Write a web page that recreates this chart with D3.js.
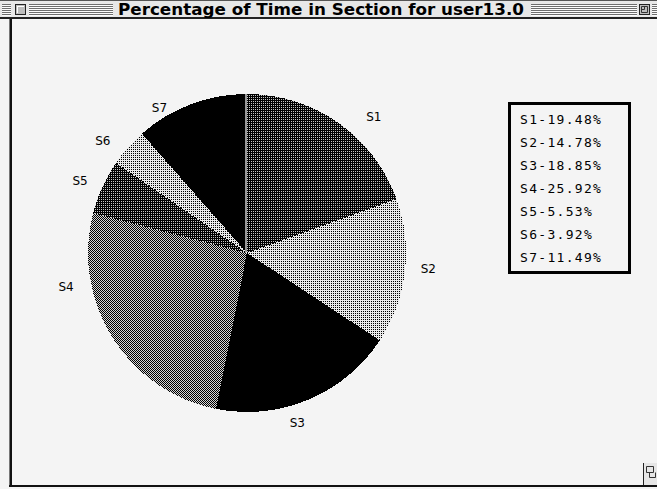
<!DOCTYPE html>
<html>
<head>
<meta charset="utf-8">
<script src="https://cdn.jsdelivr.net/npm/d3@7/dist/d3.min.js"></script>
<style>
  html, body { margin: 0; padding: 0; background: #f4f4f4; overflow: hidden; }
  svg { display: block; }
</style>
</head>
<body>
<svg id="chart" width="657" height="489"></svg>
<script>
// ---- data ----
const chartTitle = "Percentage of Time in Section for user13.0";
const sections = ["S1", "S2", "S3", "S4", "S5", "S6", "S7"];
const percents = [19.48, 14.78, 18.85, 25.92, 5.53, 3.92, 11.49];
const shades = ["dark", "light", "solid", "medium", "dark", "light", "solid"];

// ---- layout ----
const W = 657, H = 489;
const bg = "#f4f4f4";
const cx = 247, cy = 253, radius = 159;
// label bearing (degrees clockwise from 12 o'clock) and distance from centre
const labelBearing = [43, 95, 163.5, 259.5, 293.5, 308, 329];
const labelDist = [186, 182, 177, 184, 182, 183, 170];

const svg = d3.select("#chart");
const defs = svg.append("defs");

// 2x2 dither tiles
function tile(id, cells, back, fore) {
  const p = defs.append("pattern").attr("id", id)
    .attr("patternUnits", "userSpaceOnUse").attr("width", 2).attr("height", 2);
  p.append("rect").attr("width", 2).attr("height", 2).attr("fill", back);
  cells.forEach(([x, y]) => p.append("rect").attr("x", x).attr("y", y)
    .attr("width", 1).attr("height", 1).attr("fill", fore));
}
tile("dark", [[0, 0]], "#000", "#c4c4c4");
tile("light", [[0, 0]], "#eaeaea", "#000");
tile("medium", [[0, 0], [1, 1]], "#d6d6d6", "#000");
const fillFor = s => s === "solid" ? "#000" : `url(#${s})`;

// ---- window frame ----
svg.append("rect").attr("x", 0).attr("y", 0).attr("width", W).attr("height", H).attr("fill", bg);
// left edge shadow + border
svg.append("rect").attr("x", 9).attr("y", 18).attr("width", 1).attr("height", 469).attr("fill", "#777");
svg.append("rect").attr("x", 10).attr("y", 18).attr("width", 2).attr("height", 469).attr("fill", "#111");
// bottom border
svg.append("rect").attr("x", 9).attr("y", 485).attr("width", W - 9).attr("height", 2).attr("fill", "#111");

// title bar
const tb = svg.append("g");
tb.append("rect").attr("x", 0).attr("y", 0).attr("width", W).attr("height", 18).attr("fill", "#e8e8e8");
tb.append("rect").attr("x", 0).attr("y", 0).attr("width", W).attr("height", 1).attr("fill", "#555");
tb.append("rect").attr("x", 0).attr("y", 17).attr("width", W).attr("height", 2).attr("fill", "#222");
const stripeRuns = [[2, 11], [29, 113], [531, 637], [652, 657]];
[4, 6, 8, 10, 12, 14].forEach(y => {
  stripeRuns.forEach(([a, b]) => {
    tb.append("rect").attr("x", a).attr("y", y).attr("width", b - a).attr("height", 1).attr("fill", "#6e6e6e");
    tb.append("rect").attr("x", a).attr("y", y + 1).attr("width", b - a).attr("height", 1).attr("fill", "#fdfdfd");
  });
});
// close box
tb.append("rect").attr("x", 13).attr("y", 2).attr("width", 14).attr("height", 14).attr("fill", "#e8e8e8");
tb.append("rect").attr("x", 15.5).attr("y", 4.5).attr("width", 10).attr("height", 10)
  .attr("fill", "#bdbdbd").attr("stroke", "#222");
tb.append("rect").attr("x", 17).attr("y", 6).attr("width", 7).attr("height", 1).attr("fill", "#fff");
tb.append("rect").attr("x", 17).attr("y", 6).attr("width", 1).attr("height", 7).attr("fill", "#fff");
// zoom box
tb.append("rect").attr("x", 637).attr("y", 2).attr("width", 15).attr("height", 14).attr("fill", "#e8e8e8");
tb.append("rect").attr("x", 639.5).attr("y", 4.5).attr("width", 10).attr("height", 10)
  .attr("fill", "#bdbdbd").attr("stroke", "#222");
tb.append("path").attr("d", "M641.5,6.5 H647.5 V12.5 H641.5 Z M644.5,6.5 V9.5 H641.5")
  .attr("fill", "none").attr("stroke", "#333");
// title text
tb.append("text").attr("x", 321).attr("y", 15)
  .attr("text-anchor", "middle")
  .attr("font-family", "'DejaVu Sans Condensed', 'DejaVu Sans', sans-serif")
  .attr("font-weight", "bold").attr("font-size", 15)
  .attr("textLength", 406).attr("lengthAdjust", "spacingAndGlyphs")
  .attr("fill", "#000")
  .text(chartTitle);

// grow box
const gb = svg.append("g");
gb.append("rect").attr("x", 643).attr("y", 463).attr("width", 14).attr("height", 22).attr("fill", "#e6e6e6");
gb.append("rect").attr("x", 643).attr("y", 463).attr("width", 1).attr("height", 22).attr("fill", "#222");
gb.append("path").attr("d", "M646.5,466.5 H653.5 V472.5 H646.5 Z M649.5,472.5 V477.5 H655.5 V472.5")
  .attr("fill", "none").attr("stroke", "#333");

// ---- pie ----
const pie = d3.pie().sort(null).value(d => d.value).startAngle(0).endAngle(2 * Math.PI);
const arcs = pie(sections.map((s, i) => ({ name: s, value: percents[i], shade: shades[i] })));
const arc = d3.arc().innerRadius(0).outerRadius(radius);

const g = svg.append("g").attr("transform", `translate(${cx},${cy})`);
g.selectAll("path.slice").data(arcs).join("path")
  .attr("class", "slice")
  .attr("d", arc)
  .attr("fill", d => fillFor(d.data.shade))
  .attr("shape-rendering", "crispEdges");

// start edge of the first slice
g.append("line").attr("x1", -1).attr("y1", 0).attr("x2", -1).attr("y2", -radius)
  .attr("stroke", "#fff").attr("stroke-width", 1.2);

// slice labels
g.selectAll("text.lbl").data(arcs).join("text")
  .attr("class", "lbl")
  .attr("x", (d, i) => labelDist[i] * Math.sin(labelBearing[i] * Math.PI / 180))
  .attr("y", (d, i) => -labelDist[i] * Math.cos(labelBearing[i] * Math.PI / 180))
  .attr("dy", "0.36em")
  .attr("text-anchor", "middle")
  .attr("font-family", "'DejaVu Sans', sans-serif")
  .attr("font-size", 12)
  .attr("fill", "#000")
  .text(d => d.data.name);

// ---- legend ----
const legend = svg.append("g");
legend.append("rect").attr("x", 509.5).attr("y", 103.5).attr("width", 120).attr("height", 169)
  .attr("fill", "none").attr("stroke", "#000").attr("stroke-width", 3);
const rowY = d3.scaleBand().domain(sections).range([108, 269]);
legend.selectAll("text").data(sections).join("text")
  .attr("x", 520)
  .attr("y", s => rowY(s) + rowY.bandwidth() / 2)
  .attr("dy", "0.36em")
  .attr("font-family", "'DejaVu Sans Mono', monospace")
  .attr("font-size", 13)
  .attr("letter-spacing", 1.3)
  .attr("fill", "#000")
  .text((s, i) => `${s}-${percents[i].toFixed(2)}%`);
</script>
</body>
</html>
